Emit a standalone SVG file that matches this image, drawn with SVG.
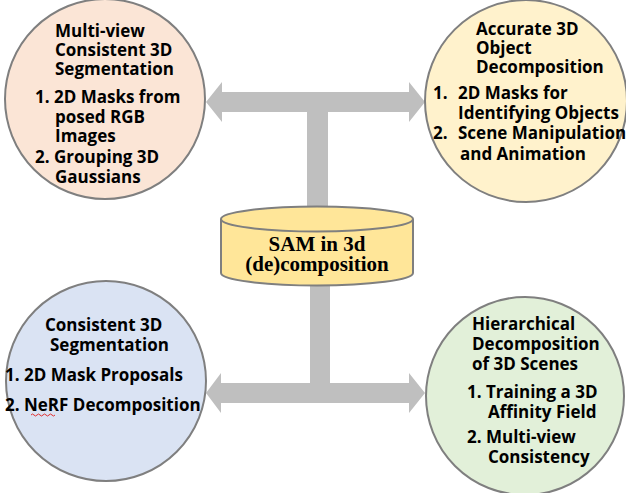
<svg xmlns="http://www.w3.org/2000/svg" width="626" height="493" viewBox="0 0 626 493">
<defs>
<style>
.conn{fill:#BFBFBF;stroke:none}
.circ{stroke:#7F7F7F;stroke-width:2}
.t{font-family:"Open Sans","Noto Sans","Liberation Sans",sans-serif;font-weight:bold;font-size:17px;fill:#000}
.c{font-family:"Liberation Serif","DejaVu Serif",serif;font-weight:bold;font-size:21px;fill:#000;text-anchor:middle}
</style>
</defs>
<rect width="626" height="493" fill="#fff"/>
<g id="connectors">
<path class="conn" d="M206,102 L222,82 L222,92 L409,92 L409,82 L425,102 L409,122 L409,112 L328,112 L328,215 L307,215 L307,112 L222,112 L222,122 Z"/>
<path class="conn" d="M206,393 L221,373 L221,383 L310,383 L310,275 L330,275 L330,383 L409,383 L409,373 L425,393 L409,413 L409,403 L221,403 L221,413 Z"/>
</g>
<g id="node-tl">
<circle class="circ" cx="105" cy="99" r="100" fill="#FBE5D6"/>
<text class="t" x="55" y="37">Multi-view</text>
<text class="t" x="55" y="56">Consistent 3D</text>
<text class="t" x="55" y="75">Segmentation</text>
<text class="t" x="35" y="103">1. 2D Masks from</text>
<text class="t" x="55" y="123">posed RGB</text>
<text class="t" x="55" y="142">Images</text>
<text class="t" x="35" y="163">2. Grouping 3D</text>
<text class="t" x="55" y="183">Gaussians</text>
</g>
<g id="node-tr">
<circle class="circ" cx="526" cy="101" r="101" fill="#FFF2CC"/>
<text class="t" x="476" y="35">Accurate 3D</text>
<text class="t" x="476" y="54">Object</text>
<text class="t" x="476" y="73">Decomposition</text>
<text class="t" x="433" y="99">1.<tspan x="458">2D Masks for</tspan></text>
<text class="t" x="458" y="119">Identifying Objects</text>
<text class="t" x="433" y="139">2.<tspan x="458">Scene Manipulation</tspan></text>
<text class="t" x="460" y="160">and Animation</text>
</g>
<g id="node-bl">
<circle class="circ" cx="106" cy="381" r="100" fill="#DAE3F3"/>
<text class="t" x="45" y="331">Consistent 3D</text>
<text class="t" x="50" y="351">Segmentation</text>
<text class="t" x="5" y="381">1. 2D Mask Proposals</text>
<text class="t" x="5" y="411">2. NeRF Decomposition</text>
<path d="M31,415 q1.5,-2 3,0 t3,0 t3,0 t3,0 t3,0 t3,0 t3,0 t3,0" fill="none" stroke="#E03030" stroke-width="1"/>
</g>
<g id="node-br">
<circle class="circ" cx="525" cy="396" r="99" fill="#E2F0D9"/>
<text class="t" x="472" y="330">Hierarchical</text>
<text class="t" x="472" y="350">Decomposition</text>
<text class="t" x="472" y="370">of 3D Scenes</text>
<text class="t" x="467" y="398">1. Training a 3D</text>
<text class="t" x="488" y="418">Affinity Field</text>
<text class="t" x="467" y="443">2. Multi-view</text>
<text class="t" x="488" y="463">Consistency</text>
</g>
<g id="node-center">
<path d="M221,219 L221,273 A96,12.5 0 0 0 413,273 L413,219" fill="#FFE699" stroke="#7F7F7F" stroke-width="2"/>
<ellipse cx="317" cy="219" rx="96" ry="12.5" fill="#FFE699" stroke="#7F7F7F" stroke-width="2"/>
<text class="c" x="317" y="251">SAM in 3d</text>
<text class="c" x="317" y="271">(de)composition</text>
</g>
</svg>
